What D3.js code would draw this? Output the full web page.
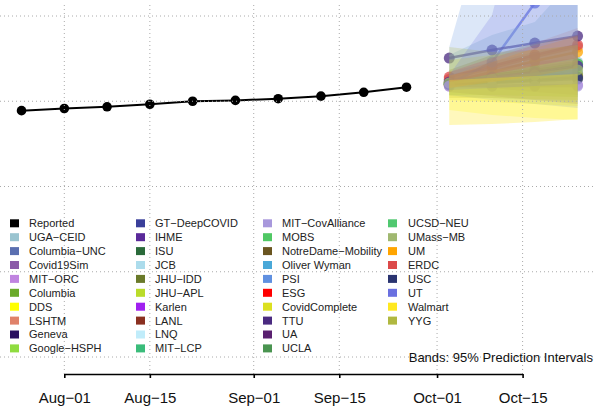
<!DOCTYPE html>
<html><head><meta charset="utf-8">
<script src="https://cdn.jsdelivr.net/npm/d3@7"></script>
<style>body{margin:0;background:#fff}svg{display:block}</style>
</head><body>
<script>
// ---------- data ----------
const reportedDates = ["2020-07-25","2020-08-01","2020-08-08","2020-08-15","2020-08-22","2020-08-29","2020-09-05","2020-09-12","2020-09-19","2020-09-26"];
const reportedValues = [6890,6915,6935,6965,7000,7010,7030,7060,7105,7165];
const forecastDates = ["2020-10-03","2020-10-10","2020-10-17","2020-10-24"];

const xTickDates = ["2020-08-01","2020-08-15","2020-09-01","2020-09-15","2020-10-01","2020-10-15"];
const xTickLabels = ["Aug\u221201","Aug\u221215","Sep\u221201","Sep\u221215","Oct\u221201","Oct\u221215"];
const yTickValues = [4000,5000,6000,7000,8000];

const legendNames = ["Reported","UGA\u2212CEID","Columbia\u2212UNC","Covid19Sim","MIT\u2212ORC","Columbia","DDS","LSHTM","Geneva","Google\u2212HSPH",
 "GT\u2212DeepCOVID","IHME","ISU","JCB","JHU\u2212IDD","JHU\u2212APL","Karlen","LANL","LNQ","MIT\u2212LCP",
 "MIT\u2212CovAlliance","MOBS","NotreDame\u2212Mobility","Oliver Wyman","PSI","ESG","CovidComplete","TTU","UA","UCLA",
 "UCSD\u2212NEU","UMass\u2212MB","UM","ERDC","USC","UT","Walmart","YYG"];
const legendColors = ["#000000","#9ac4d0","#5a6fb0","#8b5aa8","#c084e0","#6aaa2a","#ffff00","#e0826a","#2a1060","#8fdc40",
 "#3a3f9a","#5a2a9a","#2a6a3a","#acdcec","#6a7a2a","#badc2a","#a020f0","#8a3020","#c0ecfa","#3abc7a",
 "#a898dc","#50c864","#6a5520","#4aa8d8","#6090e0","#ff0000","#dce020","#4a2a80","#5a2070","#4a9450",
 "#50c870","#a0b870","#ffa500","#dc4a4a","#2a3470","#6a70e0","#ffe820","#b0b840"];

// forecast models shown in the plot: median, lower and upper 95% bounds
const fcModels = ["UGA\u2212CEID","Columbia\u2212UNC","Covid19Sim","MIT\u2212ORC","Columbia","DDS","LSHTM","PSI","CovidComplete","YYG","UM","ERDC","UT","Walmart",
 "MOBS","UCSD\u2212NEU","IHME","GT\u2212DeepCOVID","USC","UMass\u2212MB","MIT\u2212CovAlliance","TTU"];
const fcMedian = [
 [7249,7320,7390,7460],[7202,7226,7249,7273],[7249,7273,7284,7296],[7179,7179,7191,7191],
 [7214,7308,7367,7437],[7191,7226,7249,7273],[7261,7390,7519,7636],[7226,7261,7296,7331],
 [7202,7238,7261,7296],[7214,7249,7273,7308],[7226,7343,7472,7578],[7284,7414,7543,7660],
 [7202,7460,8152,8891],[7191,7226,7249,7273],
 [7202,7249,7320,7402],[7214,7284,7355,7437],[7226,7284,7343,7414],[7191,7214,7238,7261],
 [7202,7226,7249,7284],[7214,7261,7308,7367],[7179,7179,7179,7179],[7507,7601,7683,7765]];
const fcLower = [
 [7062,7038,7015,6991],[7109,7062,7015,6968],[7179,7155,7109,7073],[7109,7062,7015,6968],
 [7073,7073,7062,7050],[6897,6839,6804,6780],[7155,7249,7343,7437],[7073,7015,6968,6921],
 [7015,6991,6968,6944],[7038,7038,7027,7015],[7155,7226,7296,7390],[7226,7320,7414,7507],
 [7132,7155,7179,7202],[6721,6733,6757,6792],
 null,null,null,null,null,null,null,null];
const fcUpper = [
 [7543,7777,7930,8481],[7343,7460,7578,7672],[7320,7390,7460,7507],[7249,7296,7343,7390],
 [7367,7543,7672,7777],[7308,7367,7425,7484],[7367,7543,7683,7859],[7636,9396,11120,12880],
 [7484,7543,7601,7660],[7636,7578,7601,7660],[7296,7460,7625,7765],[7343,7507,7660,7777],
 [7308,8012,9947,11707],[7249,7273,7296,7320],
 null,null,null,null,null,null,null,null];

// ---------- drawing ----------
const W = 595, H = 410;
const parse = d3.timeParse("%Y-%m-%d");
const svg = d3.select("body").append("svg").attr("width", W).attr("height", H)
  .style("font-family", "'Liberation Sans', Arial, Helvetica, sans-serif");

const x = d3.scaleTime().domain([parse("2020-08-01"), parse("2020-10-15")]).range([64.3, 522.6]);
const y = d3.scaleLinear().domain([4000, 8000]).range([357, 16]);
const colorOf = n => legendColors[legendNames.indexOf(n)];
const bandAlpha = { "UGA\u2212CEID": 0.32, "PSI": 0.22, "UT": 0.2, "Walmart": 0.3 };

svg.append("defs").append("clipPath").attr("id", "plotclip")
  .append("rect").attr("x", 0).attr("y", 5).attr("width", W).attr("height", 370);

const plot = svg.append("g").attr("clip-path", "url(#plotclip)");
const fd = forecastDates.map(parse);
const line = d3.line().x(d => x(d[0])).y(d => y(d[1]));
const area = d3.area().x(d => x(d[0])).y0(d => y(d[1])).y1(d => y(d[2]));

// forecast medians (drawn first, then bands over them)
fcModels.forEach((m, i) => {
  const pts = fd.map((d, j) => [d, fcMedian[i][j]]);
  const c = colorOf(m);
  plot.append("path").attr("d", line(pts)).attr("fill", "none").attr("stroke", c)
    .attr("stroke-width", 2.5).attr("stroke-opacity", 0.75);
  plot.selectAll(null).data(pts).enter().append("circle")
    .attr("cx", d => x(d[0])).attr("cy", d => y(d[1])).attr("r", 5.5)
    .attr("fill", c).attr("fill-opacity", 0.75);
});

// bands
fcModels.forEach((m, i) => {
  if (!fcLower[i]) return;
  const pts = fd.map((d, j) => [d, fcLower[i][j], fcUpper[i][j]]);
  plot.append("path").attr("d", area(pts)).attr("fill", colorOf(m))
    .attr("fill-opacity", bandAlpha[m] || 0.22);
});

// grid
const grid = svg.append("g").attr("stroke", "#aaa").attr("stroke-width", 1).attr("stroke-dasharray", "1,3");
xTickDates.map(parse).forEach(d => grid.append("line").attr("x1", x(d)).attr("x2", x(d)).attr("y1", 5).attr("y2", 374));
yTickValues.forEach(v => grid.append("line").attr("x1", 0).attr("x2", W).attr("y1", y(v)).attr("y2", y(v)));

// reported
const rp = reportedDates.map((d, i) => [parse(d), reportedValues[i]]);
plot.append("path").attr("d", line(rp)).attr("fill", "none").attr("stroke", "#000").attr("stroke-width", 2);
plot.selectAll(null).data(rp).enter().append("circle")
  .attr("cx", d => x(d[0])).attr("cy", d => y(d[1])).attr("r", 4.8).attr("fill", "#000");

// x axis
const ax = svg.append("g").attr("transform", "translate(0,374)")
  .call(d3.axisBottom(x).tickValues(xTickDates.map(parse)).tickFormat((d, i) => xTickLabels[i])
    .tickSize(4).tickSizeOuter(0).tickPadding(14));
ax.select(".domain").attr("stroke", "#000").attr("stroke-width", 1.6);
ax.selectAll(".tick line").attr("stroke", "#000").attr("stroke-width", 1.6);
ax.selectAll(".tick text").attr("font-size", 15).attr("fill", "#111")
  .style("font-family", "'Liberation Sans', Arial, Helvetica, sans-serif");

// legend
const colSq = [10, 136, 263, 388], colTx = [29, 155, 282, 408];
const lg = svg.append("g");
legendNames.forEach((n, i) => {
  const c = Math.floor(i / 10), r = i % 10;
  const cy = 223.3 + r * 13.9;
  lg.append("rect").attr("x", colSq[c]).attr("y", cy - 4).attr("width", 9).attr("height", 8).attr("fill", legendColors[i]);
  lg.append("text").attr("x", colTx[c]).attr("y", cy).attr("dy", "0.36em").attr("font-size", 11).attr("fill", "#222").text(n);
});

svg.append("text").attr("x", 593).attr("y", 362).attr("text-anchor", "end").attr("font-size", 13).attr("fill", "#111")
  .text("Bands: 95% Prediction Intervals");
</script>
</body></html>
